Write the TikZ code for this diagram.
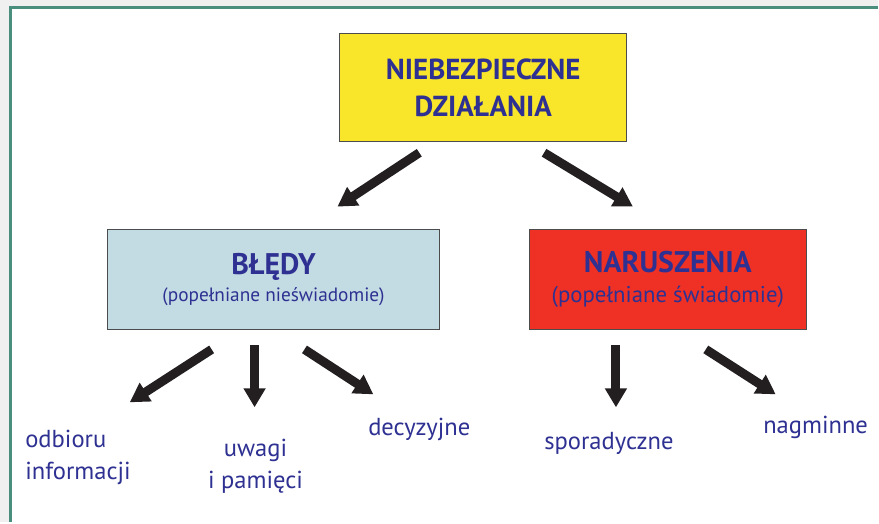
\documentclass[tikz,border=0pt]{standalone}
\usepackage{fontspec}
\setmainfont{PT Sans}
\usetikzlibrary{arrows.meta}

\definecolor{txtblue}{HTML}{2E3192}
\definecolor{boxyellow}{HTML}{F9E62A}
\definecolor{boxblue}{HTML}{C3DBE3}
\definecolor{boxred}{HTML}{EE3124}
\definecolor{arrowblack}{HTML}{231F20}
\definecolor{frameteal}{HTML}{4A8F7E}
\definecolor{pagegray}{HTML}{F0F0F0}

\tikzset{
  box/.style={draw=black!70, line width=0.6pt, text=txtblue, align=center, inner sep=0pt},
  bigarrow/.style={arrowblack, line width=0.18cm, -{Triangle[width=0.42cm, length=0.38cm]}},
  label/.style={text=txtblue, font=\fontsize{14}{18.5}\selectfont, inner sep=0pt}
}

\begin{document}
\begin{tikzpicture}[x=0.02cm, y=-0.02cm]
% Page and frame
\fill[pagegray] (0,0) rectangle (879,523);
\fill[white] (11,8) rectangle (879,523);
\draw[frameteal, line width=0.06cm] (11,523) -- (11,8) -- (879,8);
\useasboundingbox (0,0) rectangle (879,523);

% Boxes
\node[box, fill=boxyellow, minimum width=5.76cm, minimum height=2.16cm,
  font=\bfseries\fontsize{16.5}{21}\selectfont] (danger) at (484,88)
  {NIEBEZPIECZNE\\DZIAŁANIA};
\node[box, fill=boxblue, minimum width=6.64cm, minimum height=2.0cm] (errors) at (274,280) {};
\node[text=txtblue, align=center, inner sep=0pt] at (errors.center)
  {{\bfseries\fontsize{17}{20}\selectfont BŁĘDY}\\[3pt]{\fontsize{11}{14}\selectfont (popełniane nieświadomie)}};
\node[box, fill=boxred, minimum width=5.56cm, minimum height=2.0cm] (violations) at (669,280) {};
\node[text=txtblue, align=center, inner sep=0pt] at (violations.center)
  {{\bfseries\fontsize{17}{20}\selectfont NARUSZENIA}\\[5pt]{\fontsize{13}{16}\selectfont (popełniane świadomie)}};

% Labels
\node[label, align=left, anchor=west] (reception) at (25,458) {odbioru\\informacji};
\node[label, align=center] (attention) at (256,467) {uwagi\\i pamięci};
\node[label] (decision) at (420,430) {decyzyjne};
\node[label] (sporadic) at (610,444) {sporadyczne};
\node[label] (habitual) at (817,428) {nagminne};

% Arrow ends
\coordinate (d1) at (420,153);
\coordinate (d2) at (545,153);
\coordinate (e1) at (212,350);
\coordinate (e2) at (255,346);
\coordinate (e3) at (305,350);
\coordinate (v1) at (617,346);
\coordinate (v2) at (707,350);

% Arrows
\draw[bigarrow] (d1) -- (338,207);
\draw[bigarrow] (d2) -- (634,207);
\draw[bigarrow] (e1) -- (130,403);
\draw[bigarrow] (e2) -- (255,408);
\draw[bigarrow] (e3) -- (374,395);
\draw[bigarrow] (v1) -- (617,408);
\draw[bigarrow] (v2) -- (777,395);
\end{tikzpicture}
\end{document}
